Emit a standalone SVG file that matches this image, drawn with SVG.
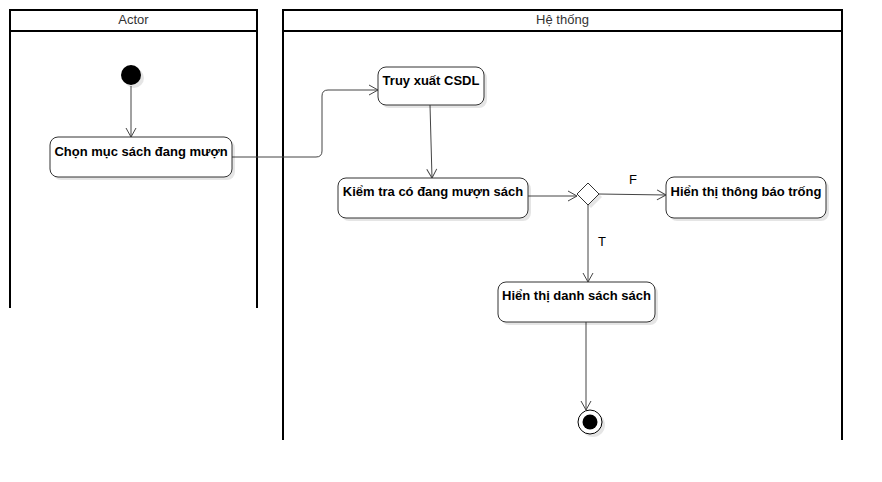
<svg xmlns="http://www.w3.org/2000/svg" width="882" height="482" viewBox="0 0 882 482">
<defs>
<style>
.lane{fill:none;stroke:#000;stroke-width:2}
.hd{font-family:"Liberation Sans",Arial,sans-serif;font-size:13px;fill:#333;text-anchor:middle}
.node{fill:#fff;stroke:#333;stroke-width:1}
.sh{fill:#000;opacity:0.1}
.lbl{font-family:"Liberation Sans",Arial,sans-serif;font-size:13px;font-weight:bold;fill:#000;text-anchor:middle}
.edge{fill:none;stroke:#444;stroke-width:1}
.el{font-family:"Liberation Sans",Arial,sans-serif;font-size:13px;fill:#000;text-anchor:middle}
</style>
<marker id="arr" markerWidth="12" markerHeight="12" refX="10" refY="6" orient="auto" markerUnits="userSpaceOnUse">
<path d="M1,1 L10,6 L1,11" fill="none" stroke="#444" stroke-width="1"/>
</marker>
</defs>
<rect width="882" height="482" fill="#fff"/>
<g id="lane-actor">
<path class="lane" d="M10,308 V10 H257 V308 M10,31 H257"/>
<text class="hd" x="133.5" y="24">Actor</text>
</g>
<g id="lane-system">
<path class="lane" d="M283,440 V10 H842 V440 M283,31 H842"/>
<text class="hd" x="562.5" y="24">Hệ thống</text>
</g>
<g id="connectors">
<path class="edge" marker-end="url(#arr)" d="M131,86 V137"/>
<path class="edge" marker-end="url(#arr)" d="M232,157 H316 Q322,157 322,151 V96 Q322,90 328,90 H378"/>
<path class="edge" marker-end="url(#arr)" d="M430,105 L432,178"/>
<path class="edge" marker-end="url(#arr)" d="M528,196 H577"/>
<path class="edge" marker-end="url(#arr)" d="M599,194 L666,195"/>
<path class="edge" marker-end="url(#arr)" d="M588,205 V282"/>
<path class="edge" marker-end="url(#arr)" d="M586,322 V410"/>
<text class="el" x="633" y="184">F</text>
<text class="el" x="602" y="246">T</text>
</g>
<g id="start">
<circle class="sh" cx="134" cy="78" r="10"/>
<circle cx="131" cy="75" r="10" fill="#000"/>
</g>
<g id="n-chon">
<rect class="sh" x="53" y="140" width="182" height="40" rx="8"/>
<rect class="node" x="50" y="137" width="182" height="40" rx="8"/>
<text class="lbl" x="141" y="156">Chọn mục sách đang mượn</text>
</g>
<g id="n-truyxuat">
<rect class="sh" x="381" y="70" width="106" height="38" rx="8"/>
<rect class="node" x="378" y="67" width="106" height="38" rx="8"/>
<text class="lbl" x="431" y="85">Truy xuất CSDL</text>
</g>
<g id="n-kiemtra">
<rect class="sh" x="341" y="181" width="190" height="40" rx="8"/>
<rect class="node" x="338" y="178" width="190" height="40" rx="8"/>
<text class="lbl" x="433" y="196">Kiểm tra có đang mượn sách</text>
</g>
<g id="decision">
<path class="sh" d="M591,186 L602,197 L591,208 L580,197 Z"/>
<path class="node" d="M588,183 L599,194 L588,205 L577,194 Z"/>
</g>
<g id="n-trong">
<rect class="sh" x="669" y="180" width="160" height="41" rx="8"/>
<rect class="node" x="666" y="177" width="160" height="41" rx="8"/>
<text class="lbl" x="746" y="196">Hiển thị thông báo trống</text>
</g>
<g id="n-danhsach">
<rect class="sh" x="501" y="285" width="157" height="40" rx="8"/>
<rect class="node" x="498" y="282" width="157" height="40" rx="8"/>
<text class="lbl" x="576.5" y="300">Hiển thị danh sách sách</text>
</g>
<g id="end">
<circle class="sh" cx="593" cy="425" r="12"/>
<circle cx="590" cy="422" r="12" fill="#fff" stroke="#000" stroke-width="1"/>
<circle cx="590" cy="422" r="7.5" fill="#000"/>
</g>
</svg>
